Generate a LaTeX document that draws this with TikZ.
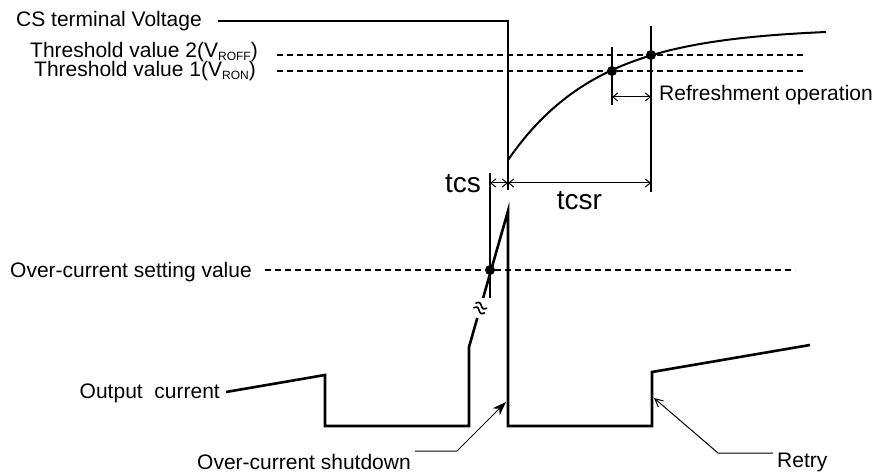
\documentclass[tikz,border=0pt]{standalone}
\usepackage{fontspec}
\setmainfont{Liberation Sans}
\usetikzlibrary{arrows.meta}
\begin{document}
\begin{tikzpicture}[x=1pt,y=-1pt,
  sig/.style={line width=2.6pt, line join=miter},
  vline/.style={line width=2.2pt},
  curvel/.style={line width=2pt},
  dline/.style={line width=1.1pt, dash pattern=on 6pt off 4pt},
  dimarr/.style={line width=1pt, {Straight Barb[length=5pt,width=8pt]}-{Straight Barb[length=5pt,width=8pt]}},
  leader/.style={line width=1pt},
  lbl/.style={inner sep=0pt, font=\fontsize{21}{24}\selectfont},
  big/.style={inner sep=0pt, font=\fontsize{28}{32}\selectfont},
  wave/.style={line width=1.6pt, line cap=round},
  dotm/.style={fill=black}]
\useasboundingbox (0,0) rectangle (876,473);

% ---------- labels ----------
\node[lbl, anchor=base west] (cs) at (16,27) {CS terminal Voltage};
\node[lbl, anchor=base east] (th2) at (258,58) {Threshold value 2(V\raisebox{-3pt}{\fontsize{12}{12}\selectfont ROFF})};
\node[lbl, anchor=base east] (th1) at (256,77) {Threshold value 1(V\raisebox{-3pt}{\fontsize{12}{12}\selectfont RON})};
\node[lbl, anchor=base west] (ocs) at (10,277) {Over-current setting value};
\node[lbl, anchor=base east] (oc) at (220,398) {Output\ \ current};
\node[lbl, anchor=base west] (ref) at (659,101) {Refreshment operation};
\node[lbl, anchor=base west] (sd) at (197,469) {Over-current shutdown};
\node[lbl, anchor=base west] (rt) at (777,467) {Retry};
\node[big, anchor=base east] (tcs) at (481,193) {tcs};
\node[big, anchor=base] (tcsr) at (579.5,210) {tcsr};

% ---------- CS terminal voltage ----------
\coordinate (v0) at (218,21);
\coordinate (v1) at (508,21);
\coordinate (v2) at (508,190);
\draw[sig] (v0) -- (v1) -- (v2);
\draw[curvel] plot[domain=508:826, samples=80, smooth] (\x, {28+132*exp(-(\x-508)/91)});

% ---------- dashed levels ----------
\coordinate (t2a) at (277,55);  \coordinate (t2b) at (805,55);
\coordinate (t1a) at (277,71);  \coordinate (t1b) at (805,71);
\coordinate (oca) at (265,270); \coordinate (ocb) at (795,270);
\draw[dline] (t2a) -- (t2b);
\draw[dline] (t1a) -- (t1b);
\draw[dline] (oca) -- (ocb);

% ---------- marker verticals ----------
\coordinate (r1a) at (612,47);  \coordinate (r1b) at (612,105);
\coordinate (r2a) at (651,26);  \coordinate (r2b) at (651,192);
\coordinate (ta) at (490,173);  \coordinate (tb) at (490,298);
\draw[vline] (r1a) -- (r1b);
\draw[vline] (r2a) -- (r2b);
\draw[vline] (ta) -- (tb);

% ---------- dimension arrows ----------
\coordinate (d1) at (490,183); \coordinate (d2) at (508,183); \coordinate (d3) at (651,183);
\draw[dimarr] (d1) -- (d2);
\draw[dimarr] (d2) -- (d3);
\coordinate (e1) at (612,97); \coordinate (e2) at (651,97);
\draw[dimarr] (e1) -- (e2);

% ---------- dots ----------
\coordinate (p1) at (612,71);
\coordinate (p2) at (651,55);
\coordinate (p3) at (490,270);
\fill[dotm] (p1) circle (5pt);
\fill[dotm] (p2) circle (5pt);
\fill[dotm] (p3) circle (5pt);

% ---------- output current ----------
\coordinate (o0) at (226,392);
\coordinate (o1) at (325,375);
\coordinate (o2) at (325,426);
\coordinate (o3) at (469,426);
\coordinate (o4) at (469,347);
\coordinate (o5) at (477.3,318);
\coordinate (o6) at (483.1,298);
\coordinate (o7) at (508,211);
\coordinate (o8) at (508,426);
\coordinate (o9) at (652,426);
\coordinate (o10) at (652,372);
\coordinate (o11) at (810,345);
\draw[sig] (o0) -- (o1) -- (o2) -- (o3) -- (o4) -- (o5);
\draw[sig] (o6) -- (o7) -- (o8) -- (o9) -- (o10) -- (o11);
% break mark
\coordinate (brk) at (480.2,308);
\begin{scope}[shift={(brk)}, rotate=-25]
  \draw[wave] (-6,-2.6) sin (-3,-4.6) cos (0,-2.6) sin (3,-0.6) cos (6,-2.6);
  \draw[wave] (-6,2.6) sin (-3,0.6) cos (0,2.6) sin (3,4.6) cos (6,2.6);
\end{scope}

% ---------- leaders ----------
\coordinate (s0) at (415,451);
\coordinate (s1) at (457,451);
\coordinate (s2) at (506,402);
\draw[leader, -{Stealth[length=14pt,width=10pt]}] (s0) -- (s1) -- (s2);
\coordinate (q0) at (773,453);
\coordinate (q1) at (718,453);
\coordinate (q2) at (654,398);
\draw[leader, -{Straight Barb[length=8pt,width=8pt]}] (q0) -- (q1) -- (q2);
\end{tikzpicture}
\end{document}
